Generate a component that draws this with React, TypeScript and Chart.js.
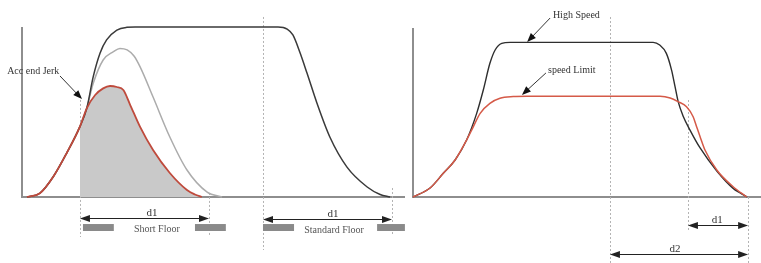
import React, { useEffect, useRef } from "react";
import { Chart, registerables } from "chart.js";
Chart.register(...registerables);

type P = [number, number];

// ---- Left panel: speed vs distance (arbitrary units 0..100) ----
const leftHighSpeed: P[] = [
  [1.3, 0], [4.7, 2.2], [8.2, 11.9], [11.7, 25.7], [15.2, 41.4], [17.0, 52.2], [18.7, 70.8],
  [20.5, 84.7], [22.2, 92.4], [24.9, 98.2], [27.5, 99.8], [29.7, 100], [67.2, 100], [69.6, 98.8],
  [71.1, 95.3], [73.0, 84.7], [74.8, 72.9], [77.4, 55.3], [80.8, 35.3], [85.3, 17.6],
  [90.6, 5.9], [94.0, 1.5], [96.6, 0],
];
const leftMidSpeed: P[] = [
  [1.3, 0], [4.7, 2.2], [8.2, 11.9], [11.7, 25.7], [15.2, 41.4], [17.0, 52.2], [18.7, 66.9],
  [21.3, 80.6], [24.0, 85.5], [25.7, 87.4], [27.6, 86.5], [29.4, 82.9], [31.0, 76.5],
  [34.4, 58.8], [38.8, 35.3], [43.3, 15.9], [48.6, 2.9], [52.5, 0],
];
const leftShortSpeed: P[] = [
  [1.3, 0], [4.7, 2.2], [8.2, 11.9], [11.7, 25.7], [15.2, 41.4], [17.0, 52.2], [19.2, 60.0],
  [21.3, 63.9], [23.1, 65.3], [24.9, 64.7], [26.6, 62.9], [28.3, 54.7], [31.0, 41.2],
  [34.4, 27.6], [38.8, 14.1], [43.3, 4.1], [45.4, 1.5], [47.2, 0],
];
const leftShadeStart = 15.2;

// ---- Right panel ----
const rightHighSpeed: P[] = [
  [0, 0], [4.9, 5.3], [8.7, 14.0], [12.1, 21.9], [15.4, 33.7], [18.3, 49.5], [20.2, 63.3],
  [22.1, 79.1], [23.6, 87.0], [25.5, 90.9], [27.9, 91.5], [69.0, 91.5], [70.9, 89.9],
  [72.8, 85.0], [74.3, 75.1], [75.3, 65.3], [76.2, 56.4], [77.7, 47.5], [79.6, 39.6],
  [82.5, 29.0], [87.3, 15.4], [92.0, 5.1], [94.0, 2.4], [96.0, 0],
];
const rightSpeedLimit: P[] = [
  [0, 0], [4.9, 5.3], [8.7, 14.0], [12.1, 21.9], [15.4, 33.7], [17.0, 40.2], [19.3, 49.5],
  [22.1, 55.4], [25.0, 58.4], [28.8, 59.4], [32.7, 59.6], [71.0, 59.6], [73.9, 58.6],
  [76.2, 56.4], [78.6, 53.4], [80.5, 47.5], [81.5, 41.6], [82.5, 35.7], [83.9, 27.8],
  [87.3, 16.0], [92.0, 6.1], [95.9, 0],
];

// ---- Markers (x positions in data units) ----
const leftMarkers = [15.2, 49.08, 63.25, 97.11];
const rightMarkers = [56.6, 79.0, 96.3];
const leftFloorBars: P[] = [[16.0, 24.1], [45.4, 53.5], [63.25, 71.4], [93.2, 100.5]];
const leftSpanLabels = ["d1", "d1"];
const rightSpanLabels = ["d1", "d2"];
const floorLabels = ["Short Floor", "Standard Floor"];
const leftCallout = "Acc end Jerk";
const rightCallouts = ["High Speed", "speed Limit"];

type Cfg = {
  axisExtra: number;
  dashed: { x: number; y1: number; y2: number }[];
  spans: { x1: number; x2: number; y: number; label: string; lx: number }[];
  bars: { x1: number; x2: number; y1: number; y2: number }[];
  texts: { t: string; x: number; y: number; align: CanvasTextAlign; color: string; size: number }[];
  pointers: { x1: number; y1: number; x2: number; y2: number }[];
};

const FONT = '"Liberation Serif", "DejaVu Serif", serif';

function head(ctx: CanvasRenderingContext2D, x: number, y: number, ang: number, len = 9, w = 3.5) {
  ctx.beginPath();
  ctx.moveTo(x, y);
  ctx.lineTo(x - len * Math.cos(ang) + w * Math.sin(ang), y - len * Math.sin(ang) - w * Math.cos(ang));
  ctx.lineTo(x - len * Math.cos(ang) - w * Math.sin(ang), y - len * Math.sin(ang) + w * Math.cos(ang));
  ctx.closePath();
  ctx.fill();
}

function makePlugin(cfg: Cfg) {
  return {
    id: "diagram",
    beforeDatasetsDraw(chart: any) {
      const { ctx, chartArea: a } = chart;
      ctx.save();
      ctx.strokeStyle = "#8e8e8e";
      ctx.lineWidth = 2;
      ctx.beginPath();
      ctx.moveTo(a.left, a.top);
      ctx.lineTo(a.left, a.bottom);
      ctx.lineTo(a.right + cfg.axisExtra, a.bottom);
      ctx.stroke();
      ctx.strokeStyle = "#b4b4b4";
      ctx.lineWidth = 1;
      ctx.setLineDash([2, 2]);
      const X = (v: number) => chart.scales.x.getPixelForValue(v);
      const Y = (v: number) => chart.scales.y.getPixelForValue(v);
      for (const d of cfg.dashed) {
        const x = Math.round(X(d.x)) + 0.5;
        ctx.beginPath();
        ctx.moveTo(x, Y(d.y1));
        ctx.lineTo(x, Y(d.y2));
        ctx.stroke();
      }
      ctx.restore();
    },
    afterDraw(chart: any) {
      const { ctx } = chart;
      const X = (v: number) => chart.scales.x.getPixelForValue(v);
      const Y = (v: number) => chart.scales.y.getPixelForValue(v);
      ctx.save();
      ctx.setLineDash([]);
      ctx.fillStyle = "#8a8a8a";
      for (const b of cfg.bars) {
        const x1 = X(b.x1), x2 = X(b.x2), y1 = Y(b.y1), y2 = Y(b.y2);
        ctx.fillRect(x1, y1, x2 - x1, y2 - y1);
      }
      ctx.lineWidth = 1;
      for (const s of cfg.spans) {
        const x1 = X(s.x1), x2 = X(s.x2), y = Math.round(Y(s.y)) + 0.5;
        ctx.strokeStyle = "#222";
        ctx.beginPath();
        ctx.moveTo(x1 + 4, y);
        ctx.lineTo(x2 - 4, y);
        ctx.stroke();
        ctx.fillStyle = "#222";
        head(ctx, x1, y, Math.PI, 10, 3.5);
        head(ctx, x2, y, 0, 10, 3.5);
        ctx.font = `11px ${FONT}`;
        ctx.fillStyle = "#333";
        ctx.textAlign = "center";
        ctx.textBaseline = "alphabetic";
        ctx.fillText(s.label, X(s.lx), y - 3);
      }
      for (const p of cfg.pointers) {
        const x1 = X(p.x1), y1 = Y(p.y1), x2 = X(p.x2), y2 = Y(p.y2);
        const ang = Math.atan2(y2 - y1, x2 - x1);
        ctx.strokeStyle = "#333";
        ctx.lineWidth = 1;
        ctx.beginPath();
        ctx.moveTo(x1, y1);
        ctx.lineTo(x2 - 5 * Math.cos(ang), y2 - 5 * Math.sin(ang));
        ctx.stroke();
        ctx.fillStyle = "#111";
        head(ctx, x2, y2, ang, 9, 3.5);
      }
      for (const t of cfg.texts) {
        ctx.font = `${t.size}px ${FONT}`;
        ctx.fillStyle = t.color;
        ctx.textAlign = t.align;
        ctx.textBaseline = "middle";
        ctx.fillText(t.t, X(t.x), Y(t.y));
      }
      ctx.restore();
    },
  };
}

function buildChart(
  canvas: HTMLCanvasElement,
  datasets: any[],
  padding: { left: number; right: number; top: number; bottom: number },
  cfg: Cfg
) {
  return new Chart(canvas, {
    type: "line",
    data: { datasets },
    options: {
      responsive: false,
      animation: false,
      events: [],
      layout: { padding },
      plugins: { legend: { display: false }, tooltip: { enabled: false } },
      elements: { point: { radius: 0 }, line: { cubicInterpolationMode: "monotone" } },
      scales: {
        x: { type: "linear", min: 0, max: 100, display: false },
        y: { type: "linear", min: 0, max: 100, display: false },
      },
    },
    plugins: [makePlugin(cfg) as any],
  });
}

const pts = (a: P[]) => a.map(([x, y]) => ({ x, y }));

export default function App() {
  const leftRef = useRef<HTMLCanvasElement>(null);
  const rightRef = useRef<HTMLCanvasElement>(null);

  useEffect(() => {
    document.body.style.margin = "0";
    const shade = leftShortSpeed.filter(([x]) => x >= leftShadeStart);
    const leftCfg: Cfg = {
      axisExtra: 2,
      dashed: [
        { x: leftMarkers[0], y1: 57.1, y2: -23.5 },
        { x: leftMarkers[1], y1: 2.4, y2: -23.5 },
        { x: leftMarkers[2], y1: 105.9, y2: -31.2 },
        { x: leftMarkers[3], y1: 5.3, y2: -22.4 },
      ],
      spans: [
        { x1: leftMarkers[0], x2: leftMarkers[1], y: -12.4, label: leftSpanLabels[0], lx: 34.1 },
        { x1: leftMarkers[2], x2: leftMarkers[3], y: -12.9, label: leftSpanLabels[1], lx: 81.6 },
      ],
      bars: leftFloorBars.map(([x1, x2]) => ({ x1, x2, y1: -15.9, y2: -20.0 })),
      texts: [
        { t: floorLabels[0], x: 35.4, y: -18.8, align: "center", color: "#555", size: 10 },
        { t: floorLabels[1], x: 81.9, y: -19.4, align: "center", color: "#555", size: 10 },
        { t: leftCallout, x: -3.9, y: 74.1, align: "left", color: "#333", size: 10 },
      ],
      pointers: [{ x1: 9.97, y1: 71.2, x2: 15.75, y2: 57.6 }],
    };
    const rightCfg: Cfg = {
      axisExtra: 0,
      dashed: [
        { x: rightMarkers[0], y1: 106.5, y2: -39.1 },
        { x: rightMarkers[1], y1: 57.4, y2: -20.7 },
        { x: rightMarkers[2], y1: 0, y2: -39.1 },
      ],
      spans: [
        { x1: rightMarkers[1], x2: rightMarkers[2], y: -16.6, label: rightSpanLabels[0], lx: 87.4 },
        { x1: rightMarkers[0], x2: rightMarkers[2], y: -33.7, label: rightSpanLabels[1], lx: 75.3 },
      ],
      bars: [],
      texts: [
        { t: rightCallouts[0], x: 40.2, y: 107.7, align: "left", color: "#333", size: 10 },
        { t: rightCallouts[1], x: 38.8, y: 75.1, align: "left", color: "#333", size: 10 },
      ],
      pointers: [
        { x1: 39.4, y1: 105.9, x2: 32.8, y2: 91.7 },
        { x1: 38.2, y1: 73.4, x2: 31.3, y2: 60.4 },
      ],
    };

    const left = buildChart(
      leftRef.current!,
      [
        { data: pts(leftShortSpeed), borderColor: "#bf4a3c", borderWidth: 1.8, fill: false, clip: false, order: 0 },
        { data: pts(shade), borderWidth: 0, borderColor: "rgba(0,0,0,0)", backgroundColor: "#c9c9c9", fill: "origin", clip: false, order: 3 },
        { data: pts(leftMidSpeed), borderColor: "#acacac", borderWidth: 1.5, fill: false, clip: false, order: 2 },
        { data: pts(leftHighSpeed), borderColor: "#3a3a3a", borderWidth: 1.5, fill: false, clip: false, order: 1 },
      ],
      { left: 22, right: 7, top: 27, bottom: 66 },
      leftCfg
    );
    const right = buildChart(
      rightRef.current!,
      [
        { data: pts(rightSpeedLimit), borderColor: "#d55a48", borderWidth: 1.5, fill: false, clip: false, order: 0 },
        { data: pts(rightHighSpeed), borderColor: "#2e2e2e", borderWidth: 1.4, fill: false, clip: false, order: 1 },
      ],
      { left: 8, right: 0, top: 28, bottom: 66 },
      rightCfg
    );
    return () => {
      left.destroy();
      right.destroy();
    };
  }, []);

  return (
    <div style={{ position: "absolute", left: 0, top: 0, width: 761, height: 263, background: "#fff" }}>
      <canvas ref={leftRef} width={410} height={263} style={{ position: "absolute", left: 0, top: 0 }} />
      <canvas ref={rightRef} width={356} height={263} style={{ position: "absolute", left: 405, top: 0 }} />
    </div>
  );
}
